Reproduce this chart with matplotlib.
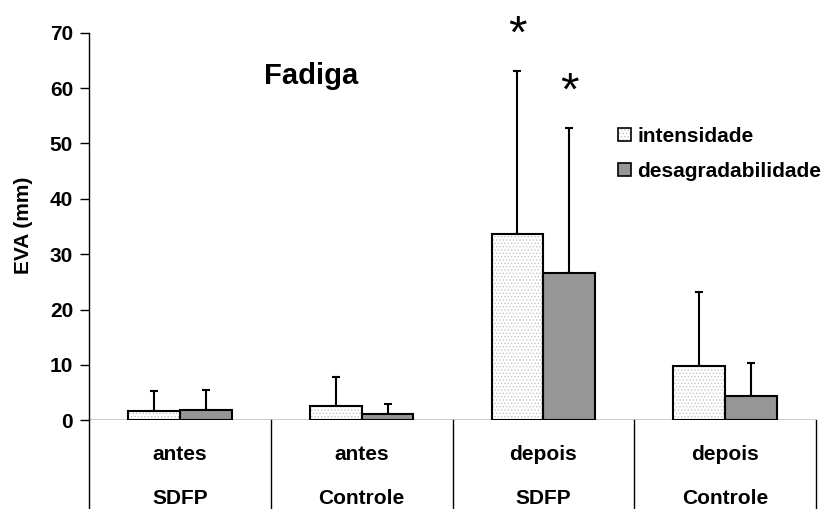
import matplotlib
matplotlib.use("Agg")
import matplotlib.pyplot as plt
from matplotlib.patches import Patch
from matplotlib.legend_handler import HandlerTuple
import numpy as np

plt.rcParams['font.family'] = ['Liberation Sans', 'DejaVu Sans']
plt.rcParams['hatch.linewidth'] = 0.6

moments = ["antes", "antes", "depois", "depois"]
groups = ["SDFP", "Controle", "SDFP", "Controle"]
series = ["intensidade", "desagradabilidade"]
intensidade = [1.7, 2.6, 33.6, 9.75]
intensidade_top = [5.3, 7.8, 63.0, 23.1]
desagradabilidade = [1.8, 1.2, 26.6, 4.3]
desagradabilidade_top = [5.5, 2.9, 52.8, 10.4]
yticks = [0, 10, 20, 30, 40, 50, 60, 70]
title = "Fadiga"
ylabel = "EVA (mm)"
signif = [(2, 0, 70.9), (2, 1, 60.6)]  # (category, series index, y)

W, H = 835, 509
fig = plt.figure(figsize=(W / 100, H / 100), dpi=100)
ax = fig.add_axes([89 / W, 1 - 420.3 / H, (816 - 89) / W, (420.3 - 32.7) / H])

x = np.arange(len(moments))
bw = 0.285
off = [-bw / 2, bw / 2]
FS = 15

i_err = np.array(intensidade_top) - np.array(intensidade)
d_err = np.array(desagradabilidade_top) - np.array(desagradabilidade)

ax.errorbar(x + off[0], intensidade, yerr=[np.zeros(4), i_err], fmt='none',
            ecolor='black', elinewidth=1.5, capsize=3, capthick=1.5, zorder=2)
ax.errorbar(x + off[1], desagradabilidade, yerr=[np.zeros(4), d_err], fmt='none',
            ecolor='black', elinewidth=1.5, capsize=3, capthick=1.5, zorder=2)

ax.bar(x + off[0], intensidade, bw, facecolor='#ffffff', edgecolor='#c4c4c4',
       hatch='.....', linewidth=0, zorder=3)
ax.bar(x + off[0], intensidade, bw, fill=False, edgecolor='black', linewidth=1.5, zorder=4)
ax.bar(x + off[1], desagradabilidade, bw, facecolor='#969696', edgecolor='black',
       linewidth=1.5, zorder=3)

ax.set_xlim(-0.5, 3.5)
ax.set_ylim(0, 70)
ax.set_yticks(yticks)
ax.set_yticklabels([str(t) for t in yticks], fontsize=FS, fontweight='bold')
ax.tick_params(axis='y', direction='out', length=6.5, width=1, pad=5)
ax.set_xticks([])
for s in ['top', 'right', 'bottom']:
    ax.spines[s].set_visible(False)
ax.spines['left'].set_linewidth(1)
ax.axhline(0, color='black', linewidth=1, zorder=5)

for b in np.arange(-0.5, 4.0, 1.0):
    ax.plot([b, b], [0, -20], color='black', linewidth=1, clip_on=False, zorder=5)

for i in range(len(moments)):
    ax.text(x[i], -6.1, moments[i], ha='center', va='center', fontsize=FS,
            fontweight='bold', clip_on=False)
    ax.text(x[i], -14.2, groups[i], ha='center', va='center', fontsize=FS,
            fontweight='bold', clip_on=False)

ax.text(0.724, 62.2, title, ha='center', va='center', fontsize=21, fontweight='bold')
ax.set_ylabel(ylabel, fontsize=FS, fontweight='bold')
ax.yaxis.set_label_coords(33 / W, 1 - 225 / H, transform=fig.transFigure)

for c, s, yv in signif:
    ax.text(x[c] + off[s], yv - 1.5, "*", ha='center', va='center', fontsize=34,
            clip_on=False)

h1 = (Patch(facecolor='#ffffff', edgecolor='#c4c4c4', hatch='.....', linewidth=0),
      Patch(fill=False, edgecolor='black', linewidth=1.2))
h2 = Patch(facecolor='#969696', edgecolor='black', linewidth=1.2)
leg = ax.legend([h1, h2], series, loc='upper left', bbox_to_anchor=(618 / W, 1 - 127 / H),
                bbox_transform=fig.transFigure, frameon=False,
                handler_map={tuple: HandlerTuple(ndivide=1, pad=0)},
                prop={'size': FS, 'weight': 'bold'}, handlelength=0.62,
                handleheight=0.62, handletextpad=0.3, labelspacing=0.75,
                borderpad=0, borderaxespad=0)

fig.savefig("out.png", dpi=100)
